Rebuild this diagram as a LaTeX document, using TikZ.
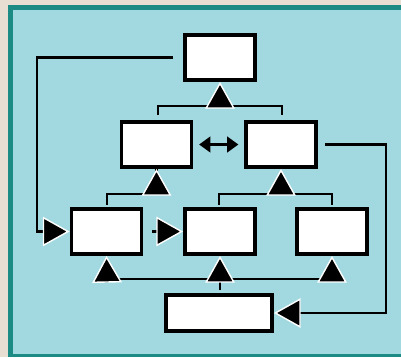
\documentclass[tikz,border=0pt]{standalone}
\usetikzlibrary{arrows.meta}
\definecolor{frameback}{HTML}{E9DED2}
\definecolor{frameteal}{HTML}{1B8B83}
\definecolor{panelblue}{HTML}{A2D9E1}
\tikzset{
  box/.style={draw=black,fill=white,line width=2.8pt,minimum width=1.75cm,minimum height=1.125cm,inner sep=0pt},
  wide/.style={box,minimum width=2.65cm,minimum height=0.9cm},
  link/.style={line width=1.9pt},
  tri/.style={link,-{Triangle[length=19pt,width=21pt,fill=black,color=white,line width=1pt]}},
  twin/.style={link,{Triangle[length=8pt,width=11pt]}-{Triangle[length=8pt,width=11pt]}}
}
\begin{document}
\begin{tikzpicture}[x=0.025cm,y=-0.025cm]
\useasboundingbox (0,0) rectangle (401,357);
\fill[frameback] (0,0) rectangle (401,357);
\fill[frameteal] (8,5) rectangle (410,357);
\fill[panelblue] (13,10) rectangle (410,354);
\node[box] (top) at (220,57.5) {};
\node[box] (ml) at (156.5,144.5) {};
\node[box] (mr) at (281,144.5) {};
\node[box] (bl) at (106.5,231.5) {};
\node[box] (bm) at (220,231.5) {};
\node[box] (br) at (332,231.5) {};
\node[wide] (bot) at (219,313) {};
\draw[link] (158,115) -- (158,106) -- (282,106) -- (282,115);
\draw[tri] (220,106) -- (top.south);
\draw[twin,shorten <=4pt,shorten >=4pt] (ml.east) -- (mr.west);
\draw[link] (107,205) -- (107,194) -| (ml.south);
\draw[tri] (156.5,194) -- (ml.south);
\draw[link] (219,205) -- (219,194) -- (332,194) -- (332,205);
\draw[tri] (281,194) -- (mr.south);
\draw[tri,shorten <=6.4pt] (bl.east) -- (bm.west);
\draw[link] (107,279) -- (332,279);
\draw[tri] (107,279) -- (bl.south);
\draw[tri] (332,279) -- (br.south);
\draw[tri,shorten <=2pt] (bot.north -| bm.south) -- (bm.south);
\draw[tri,shorten <=7pt] (top.west) -- (37,57.5) |- (bl.west);
\draw[tri,shorten <=5pt] (mr.east) -- (386,144.5) |- (bot.east);
\end{tikzpicture}
\end{document}
